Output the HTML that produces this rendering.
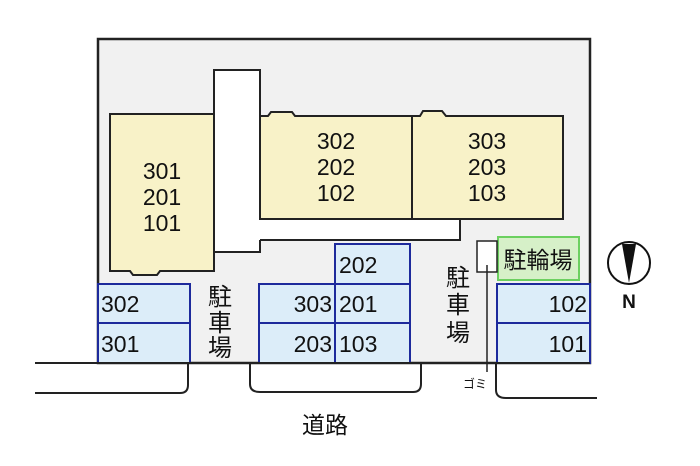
<!DOCTYPE html>
<html><head><meta charset="utf-8"><style>
html,body{margin:0;padding:0;background:#fff;width:700px;height:466px;overflow:hidden}
svg text{font-family:"Liberation Sans","Noto Sans CJK JP",sans-serif;fill:#111}
</style></head><body>
<svg width="700" height="466" viewBox="0 0 700 466" xmlns="http://www.w3.org/2000/svg">
<rect x="98" y="39" width="492" height="324" fill="#f1f1f1" stroke="#222" stroke-width="2.5"/>
<rect x="214" y="70" width="46" height="182" fill="#fff" stroke="#222" stroke-width="2"/>
<rect x="259" y="219" width="201" height="21" fill="#fff" stroke="none"/>
<polyline points="260,240 460,240 460,219" fill="none" stroke="#222" stroke-width="2"/>
<path d="M110,114 L214,114 L214,271 L160,271 L157,275 L133,275 L130,271 L110,271 Z" fill="#f8f2c8" stroke="#222" stroke-width="2"/>
<path d="M260,116 L268,116 L271,112 L292,112 L295,116 L412,116 L412,219 L260,219 Z" fill="#f8f2c8" stroke="#222" stroke-width="2"/>
<path d="M412,116 L420,116 L423,111 L442,111 L446,116 L563,116 L563,219 L412,219 Z" fill="#f8f2c8" stroke="#222" stroke-width="2"/>
<g font-size="23" text-anchor="middle">
<text x="162" y="179">301</text><text x="162" y="205">201</text><text x="162" y="231">101</text>
<text x="336" y="149">302</text><text x="336" y="175">202</text><text x="336" y="201">102</text>
<text x="487" y="149">303</text><text x="487" y="175">203</text><text x="487" y="201">103</text>
</g>
<g fill="#dcedf9" stroke="#1d2a9c" stroke-width="2">
<rect x="98" y="284" width="92" height="39"/><rect x="98" y="323" width="92" height="40"/>
<rect x="259" y="284" width="76" height="39"/><rect x="259" y="323" width="76" height="40"/>
<rect x="335" y="244" width="75" height="40"/><rect x="335" y="284" width="75" height="39"/><rect x="335" y="323" width="75" height="40"/>
<rect x="497" y="284" width="93" height="39"/><rect x="497" y="323" width="93" height="40"/>
</g>
<g font-size="23">
<text x="101" y="312">302</text><text x="101" y="352">301</text>
<text x="332" y="312" text-anchor="end">303</text><text x="332" y="352" text-anchor="end">203</text>
<text x="339" y="273">202</text><text x="339" y="312">201</text><text x="339" y="352">103</text>
<text x="587" y="312" text-anchor="end">102</text><text x="587" y="352" text-anchor="end">101</text>
</g>
<rect x="498" y="237" width="81" height="43" fill="#d6f0c8" stroke="#6cd060" stroke-width="2"/>
<text x="538" y="268" font-size="23" text-anchor="middle">駐輪場</text>
<rect x="477" y="241" width="20" height="31" fill="#fff" stroke="#222" stroke-width="1.5"/>
<line x1="487" y1="265" x2="487" y2="372" stroke="#222" stroke-width="1.5"/>
<g font-size="24" text-anchor="middle">
<text x="220" y="305">駐</text><text x="220" y="331">車</text><text x="220" y="356">場</text>
<text x="458" y="286">駐</text><text x="458" y="313">車</text><text x="458" y="341">場</text>
</g>
<text x="463" y="388" font-size="12">ゴミ</text>
<g fill="none" stroke="#222" stroke-width="2">
<line x1="35" y1="363" x2="590" y2="363"/>
<path d="M35,393 L180,393 Q188,393 188,385 L188,363"/>
<path d="M250,363 L250,384 Q250,392 260,392 L413,392 Q421,392 421,384 L421,363"/>
<path d="M496,363 L496,390 Q496,398 506,398 L597,398"/>
</g>
<text x="325" y="433" font-size="23" text-anchor="middle">道路</text>
<circle cx="629" cy="263" r="21" fill="#fff" stroke="#111" stroke-width="2"/>
<path d="M622,244 L636,244 L629,283 Z" fill="#111"/>
<text x="629" y="308" font-size="19" text-anchor="middle" font-weight="bold">N</text>
</svg>
</body></html>
